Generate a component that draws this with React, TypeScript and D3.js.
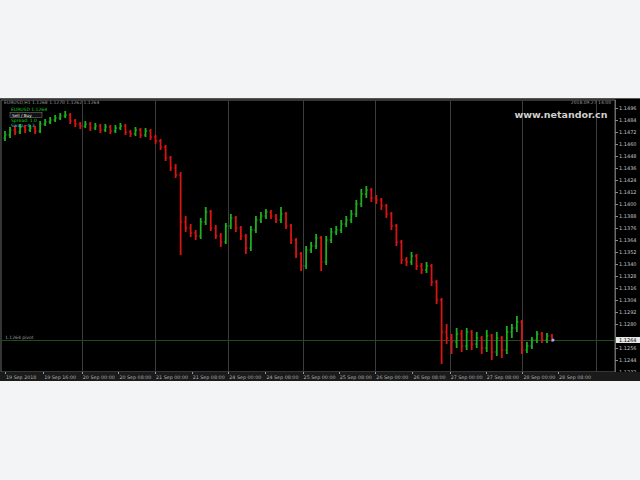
import React from "react";
import * as d3 from "d3";

const symbolTitle = "EURUSD,H1  1.1268 1.1270 1.1262 1.1264";
const serverTime = "2018.09.27 14:00";
const watermark = "www.netandor.cn";
const levelLabel = "1.1264 pivot";

const closes = [
  1.1469, 1.1474, 1.1472, 1.1477, 1.1474, 1.1476, 1.1473, 1.148, 1.1482, 1.1484,
  1.1486, 1.1488, 1.1489, 1.1483, 1.148, 1.1478, 1.148, 1.1476, 1.1478, 1.1474,
  1.1477, 1.1473, 1.1476, 1.1478, 1.1472, 1.147, 1.1474, 1.1469, 1.1473, 1.1467,
  1.1463, 1.1457, 1.1446, 1.1436, 1.1429, 1.1382, 1.1376, 1.1371, 1.1368, 1.1382,
  1.1392, 1.1376, 1.1368, 1.1362, 1.1378, 1.1386, 1.1376, 1.1368, 1.1356, 1.1374,
  1.1384, 1.1388, 1.1392, 1.1388, 1.1384, 1.139, 1.1378, 1.1364, 1.135, 1.1338,
  1.1354, 1.1358, 1.1366, 1.1342, 1.1364, 1.1372, 1.1374, 1.138, 1.1384, 1.139,
  1.14, 1.141, 1.1414, 1.1406, 1.1404, 1.1398, 1.139, 1.1378, 1.1362, 1.1344,
  1.1342, 1.1348, 1.1338, 1.1334, 1.1338, 1.1322, 1.1304, 1.1272, 1.1266, 1.1262,
  1.127, 1.1258, 1.1272, 1.126, 1.1266, 1.1256, 1.1268, 1.1252, 1.1266, 1.1254,
  1.1272, 1.1276, 1.1282, 1.1254, 1.1258, 1.1264, 1.127, 1.1264, 1.1268, 1.1264,
];
const opens = [
  1.1466, 1.1469, 1.1474, 1.1472, 1.1477, 1.1474, 1.1476, 1.1473, 1.148, 1.1482,
  1.1484, 1.1486, 1.1488, 1.1489, 1.1483, 1.148, 1.1478, 1.148, 1.1476, 1.1478,
  1.1474, 1.1477, 1.1473, 1.1476, 1.1478, 1.1472, 1.147, 1.1474, 1.1469, 1.1473,
  1.1467, 1.1463, 1.1457, 1.1446, 1.1436, 1.1429, 1.1382, 1.1376, 1.1371, 1.1368,
  1.1382, 1.1392, 1.1376, 1.1368, 1.1362, 1.1378, 1.1386, 1.1376, 1.1368, 1.1356,
  1.1374, 1.1384, 1.1388, 1.1392, 1.1388, 1.1384, 1.139, 1.1378, 1.1364, 1.135,
  1.1338, 1.1354, 1.1358, 1.1366, 1.1342, 1.1364, 1.1372, 1.1374, 1.138, 1.1384,
  1.139, 1.14, 1.141, 1.1414, 1.1406, 1.1404, 1.1398, 1.139, 1.1378, 1.1362,
  1.1344, 1.1342, 1.1348, 1.1338, 1.1334, 1.1338, 1.1322, 1.1304, 1.1272, 1.1266,
  1.1262, 1.127, 1.1258, 1.1272, 1.126, 1.1266, 1.1256, 1.1268, 1.1252, 1.1266,
  1.1254, 1.1272, 1.1276, 1.1282, 1.1254, 1.1258, 1.1264, 1.127, 1.1264, 1.1268,
];
const highs = [
  1.1473, 1.1477, 1.1478, 1.148, 1.1479, 1.1479, 1.1478, 1.1483, 1.1485, 1.1487,
  1.1489, 1.1491, 1.1493, 1.1491, 1.1485, 1.1482, 1.1483, 1.1482, 1.1481, 1.148,
  1.148, 1.1479, 1.1479, 1.1481, 1.148, 1.1474, 1.1477, 1.1476, 1.1476, 1.1475,
  1.1469, 1.1465, 1.1459, 1.1448, 1.144, 1.1432, 1.1388, 1.138, 1.1374, 1.1386,
  1.1397, 1.1394, 1.1379, 1.1371, 1.1381, 1.139, 1.1388, 1.1378, 1.137, 1.1378,
  1.1388, 1.1392, 1.1395, 1.1394, 1.139, 1.1397, 1.1392, 1.138, 1.1366, 1.1352,
  1.1358, 1.1362, 1.137, 1.1368, 1.1368, 1.1376, 1.1378, 1.1384, 1.1388, 1.1394,
  1.1404, 1.1415, 1.1418, 1.1416, 1.1409, 1.1406, 1.14, 1.1392, 1.138, 1.1364,
  1.1347, 1.1352, 1.135, 1.1341, 1.1342, 1.134, 1.1324, 1.1306, 1.128, 1.127,
  1.1276, 1.1274, 1.1276, 1.1274, 1.1272, 1.1268, 1.1274, 1.127, 1.1272, 1.1268,
  1.1278, 1.128, 1.1288, 1.1284, 1.1262, 1.1267, 1.1273, 1.1272, 1.1271, 1.127,
];
const lows = [
  1.1463, 1.1466, 1.1469, 1.147, 1.1471, 1.1472, 1.147, 1.1471, 1.1478, 1.148,
  1.1482, 1.1484, 1.1486, 1.148, 1.1477, 1.1475, 1.1476, 1.1473, 1.1474, 1.1471,
  1.1472, 1.147, 1.1471, 1.1474, 1.1469, 1.1467, 1.1468, 1.1466, 1.1467, 1.1464,
  1.146, 1.1454, 1.1443, 1.1433, 1.1426, 1.1349, 1.1372, 1.1367, 1.1364, 1.1365,
  1.1379, 1.1373, 1.1365, 1.1357, 1.136, 1.1375, 1.1372, 1.1364, 1.135, 1.1353,
  1.1371, 1.1381, 1.1385, 1.1385, 1.1381, 1.1381, 1.1375, 1.136, 1.1346, 1.1333,
  1.1335, 1.1351, 1.1355, 1.1333, 1.1339, 1.1361, 1.1369, 1.1371, 1.1377, 1.1381,
  1.1387, 1.1397, 1.1406, 1.1402, 1.14, 1.1394, 1.1386, 1.1374, 1.1358, 1.134,
  1.1338, 1.1339, 1.1334, 1.133, 1.1331, 1.1318, 1.13, 1.124, 1.126, 1.125,
  1.1256, 1.1252, 1.1254, 1.1254, 1.1256, 1.125, 1.1252, 1.1244, 1.1248, 1.1246,
  1.125, 1.1266, 1.1272, 1.125, 1.1251, 1.1255, 1.1261, 1.1261, 1.1261, 1.1262,
];

const priceTicks = [
  1.1496, 1.1484, 1.1472, 1.146, 1.1448, 1.1436, 1.1424, 1.1412, 1.14, 1.1388,
  1.1376, 1.1364, 1.1352, 1.134, 1.1328, 1.1316, 1.1304, 1.1292, 1.128, 1.1256,
  1.1244, 1.1232,
];
const currentPrice = 1.1264;

const gridIdx = [15.3, 29.9, 44.5, 59.3, 73.8, 88.6, 103.1, 117.8];
const timeIdx = [0, 7.6, 15.3, 22.6, 29.9, 37.2, 44.5, 51.9, 59.3, 66.5, 73.8, 81.2, 88.6, 95.8, 103.1, 110.2];
const timeLabels = [
  "19 Sep 2018", "19 Sep 16:00", "20 Sep 00:00", "20 Sep 08:00", "21 Sep 00:00",
  "21 Sep 08:00", "24 Sep 00:00", "24 Sep 08:00", "25 Sep 00:00", "25 Sep 08:00",
  "26 Sep 00:00", "26 Sep 08:00", "27 Sep 00:00", "27 Sep 08:00", "28 Sep 00:00",
  "28 Sep 08:00",
];

const W = 640;
const H = 480;
const frameTop = 98;
const frameBottom = 381;
const plotLeft = 1;
const plotRight = 615;
const plotTop = 104;
const plotBottom = 372;

export default function App() {
  const x = d3.scaleLinear().domain([0, 109]).range([5, 552]);
  const y = d3.scaleLinear().domain([1.15, 1.1231]).range([plotTop, 373]);
  const up = "#1fae1f";
  const down = "#d81414";
  const mono = "'DejaVu Sans', sans-serif";

  return (
    <svg
      width={W}
      height={H}
      style={{ position: "fixed", left: 0, top: 0, background: "#f3f4f6" }}
    >
      <rect x={0} y={frameTop} width={W} height={frameBottom - frameTop} fill="#000" />
      <line x1={0} x2={W} y1={frameTop + 0.5} y2={frameTop + 0.5} stroke="#555" />
      <rect x={plotLeft} y={frameTop + 2} width={plotRight - plotLeft} height={plotBottom - frameTop - 2} fill="none" stroke="#6a6a6a" strokeWidth={1} />

      {gridIdx.map((g, i) => (
        <line key={"g" + i} x1={Math.round(x(g)) + 0.5} x2={Math.round(x(g)) + 0.5} y1={frameTop + 2} y2={plotBottom} stroke="#3c3c3c" strokeWidth={1} />
      ))}

      <line x1={plotLeft} x2={plotRight} y1={Math.round(y(currentPrice)) + 0.5} y2={Math.round(y(currentPrice)) + 0.5} stroke="#1c4f1c" strokeWidth={1} />
      <text x={5} y={y(currentPrice) - 1.5} fontSize={4.5} fill="#9a9a9a" fontFamily={mono}>{levelLabel}</text>

      {closes.map((c, i) => {
        const o = opens[i];
        const col = c >= o ? up : down;
        const cx = x(i);
        return (
          <g key={"b" + i} stroke={col} strokeWidth={1.8}>
            <line x1={cx} x2={cx} y1={y(highs[i])} y2={y(lows[i])} />
            <line x1={cx - 1.6} x2={cx} y1={y(o)} y2={y(o)} strokeWidth={1.2} />
            <line x1={cx} x2={cx + 1.6} y1={y(c)} y2={y(c)} strokeWidth={1.2} />
          </g>
        );
      })}
      <circle cx={x(109) + 1} cy={y(currentPrice)} r={1.5} fill="#8ab4ff" />

      <text x={4} y={103.5} fontSize={4.5} fill="#9a9a9a" fontFamily={mono}>{symbolTitle}</text>
      <text x={611} y={103.5} fontSize={4.5} fill="#9a9a9a" fontFamily={mono} textAnchor="end">{serverTime}</text>
      <text x={11} y={111} fontSize={4.5} fill="#18d018" fontFamily={mono}>EURUSD 1.1264</text>
      <rect x={10} y={112.5} width={32} height={5} fill="#111" stroke="#888" strokeWidth={0.5} />
      <text x={12} y={116.5} fontSize={4.2} fill="#eee" fontFamily={mono}>Sell / Buy</text>
      <text x={11} y={122} fontSize={4.5} fill="#18d018" fontFamily={mono}>Spread: 1.0</text>
      <text x={11} y={127} fontSize={4.5} fill="#3cc" fontFamily={mono}>Swap: -0.3</text>

      <text x={561} y={118} fontSize={9.5} fill="#cfcfcf" fontFamily={mono} textAnchor="middle" fontWeight="bold">{watermark}</text>

      <line x1={plotRight + 0.5} x2={plotRight + 0.5} y1={frameTop + 2} y2={plotBottom} stroke="#6a6a6a" />
      {priceTicks.map((p, i) => (
        <g key={"p" + i}>
          <line x1={plotRight} x2={plotRight + 3} y1={Math.round(y(p)) + 0.5} y2={Math.round(y(p)) + 0.5} stroke="#888" />
          <text x={plotRight + 4} y={y(p) + 2} fontSize={5} fill="#c0c0c0" fontFamily={mono}>{p.toFixed(4)}</text>
        </g>
      ))}
      <rect x={plotRight + 1} y={y(currentPrice) - 3} width={24} height={6} fill="#e8e8e8" />
      <text x={plotRight + 4} y={y(currentPrice) + 2} fontSize={5} fill="#000" fontFamily={mono}>{currentPrice.toFixed(4)}</text>

      <rect x={0} y={plotBottom} width={W} height={frameBottom - plotBottom} fill="#1a1a1a" />
      {timeIdx.map((t, i) => (
        <g key={"t" + i}>
          <line x1={Math.round(x(t)) + 0.5} x2={Math.round(x(t)) + 0.5} y1={plotBottom} y2={plotBottom + 2} stroke="#999" />
          <text x={x(t) + 1} y={plotBottom + 6.5} fontSize={4.8} fill="#b0b0b0" fontFamily={mono}>{timeLabels[i]}</text>
        </g>
      ))}
    </svg>
  );
}
